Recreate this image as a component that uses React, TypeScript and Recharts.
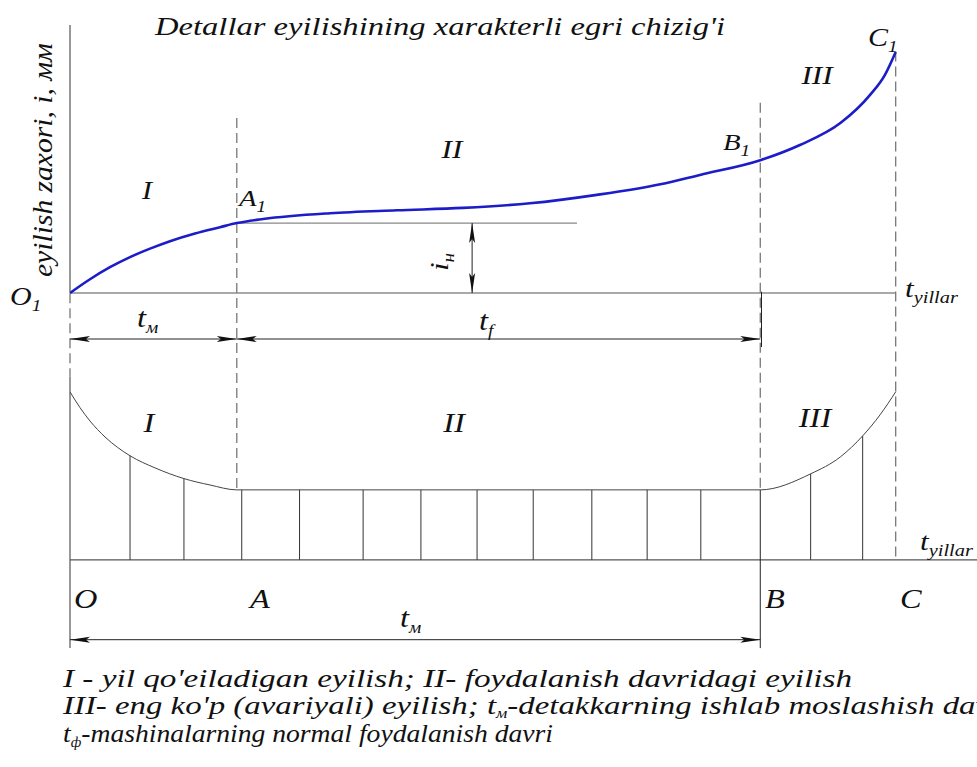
import React from 'react'
import { ComposedChart, Line, XAxis, YAxis, ReferenceLine } from 'recharts'

// time axis: O = 0 ... C = 100
const T_A = 20.2
const T_B = 83.6
const T_C = 100
const X_MAX = 109

// wear curve O1 - A1 - B1 - C1 (i, mm)
const wearT = [0, 2.42, 4.84, 7.27, 9.69, 12.11, 15.14, 18.17, 20.2, 23.4, 31.5, 39.6, 47.6, 55.7, 63.8, 71.5, 76.3, 83.7, 88.4, 93.3, 96.9, 98.7, 100]
const wearI = [0, 0.57, 1.07, 1.49, 1.84, 2.15, 2.47, 2.73, 2.9, 3.07, 3.31, 3.43, 3.53, 3.72, 4.07, 4.51, 4.9, 5.52, 6.14, 7.05, 8.22, 9.05, 10]
const I_A1 = 2.9

// wear rate curve (lower diagram)
const rateT = [0, 1.21, 2.42, 4.24, 7.27, 10.3, 13.8, 16.95, 20.2, 83.6, 89.7, 93.3, 96.0, 98.1, 100]
const rateV = [2.4, 2.175, 1.984, 1.756, 1.487, 1.314, 1.161, 1.07, 1.0, 1.0, 1.229, 1.471, 1.771, 2.071, 2.4]

// hatch lines under the rate curve
const hatchT = [7.27, 13.8, 20.8, 27.8, 35.5, 42.5, 49.3, 56.1, 63.2, 69.9, 76.4, 89.7, 96.0]
const hatchV = [1.487, 1.161, 1.0, 1.0, 1.0, 1.0, 1.0, 1.0, 1.0, 1.0, 1.0, 1.229, 1.771]

// axis ranges
const wearDomain = [-15.23, 11.12]
const rateDomain = [-1.43, 7.64]

const wearData = wearT.map((t, k) => ({ t, i: wearI[k] }))
const rateData = rateT.map((t, k) => ({ t, v: rateV[k] }))

const W = 977
const H = 767
const SX = 1.2
const FONT = '"Liberation Serif"'
const AXIS = '#555'
const DASH = '#777'

const DimLine = (props: any) => {
    const { x1, y1, x2, y2 } = props
    const len = Math.hypot(x2 - x1, y2 - y1) || 1
    const ux = (x2 - x1) / len
    const uy = (y2 - y1) / len
    const L = 20
    const w = 3
    const head = (tx: number, ty: number, dx: number, dy: number) =>
        `${tx},${ty} ${tx + dx * L - dy * w},${ty + dy * L + dx * w} ${tx + dx * L * 0.8},${ty + dy * L * 0.8} ${tx + dx * L + dy * w},${ty + dy * L - dx * w}`
    return (
        <g>
            <line x1={x1} y1={y1} x2={x2} y2={y2} stroke="#222" strokeWidth={1} />
            <polygon points={head(x1, y1, ux, uy)} fill="#111" />
            <polygon points={head(x2, y2, -ux, -uy)} fill="#111" />
        </g>
    )
}

const Txt = ({ x, y, size = 26, anchor = 'start', rotate = 0, len, children }: any) => (
    <text
        transform={`translate(${x},${y}) rotate(${rotate}) scale(${len ? 1 : SX},1)`}
        style={{ fontFamily: FONT, fontStyle: 'italic', fontSize: size }}
        textAnchor={anchor}
        fill="#111"
        textLength={len}
        lengthAdjust={len ? 'spacingAndGlyphs' : undefined}
    >
        {children}
    </text>
)

const Sub = ({ children, size = 16, dy = 6 }: any) => (
    <tspan dy={dy} style={{ fontSize: size }}>{children}</tspan>
)

export default function App() {
    return (
        <div style={{ position: 'absolute', left: 0, top: 0, width: W, height: H, background: '#fff' }}>
            <ComposedChart width={W} height={H} margin={{ top: 25, right: 7, bottom: 107, left: 70 }}>
                <XAxis type="number" dataKey="t" domain={[0, X_MAX]} allowDataOverflow hide />
                <YAxis yAxisId="i" type="number" domain={wearDomain} allowDataOverflow hide />
                <YAxis yAxisId="v" type="number" domain={rateDomain} allowDataOverflow hide />

                {/* upper diagram axes */}
                <ReferenceLine yAxisId="i" segment={[{ x: 0, y: 0 }, { x: 0, y: wearDomain[1] }]} stroke={AXIS} strokeWidth={1.2} />
                <ReferenceLine yAxisId="i" segment={[{ x: 0, y: 0 }, { x: T_C, y: 0 }]} stroke={AXIS} strokeWidth={1.2} />
                <ReferenceLine yAxisId="i" segment={[{ x: T_A, y: I_A1 }, { x: 61.4, y: I_A1 }]} stroke="#888" strokeWidth={1.2} />

                {/* lower diagram axes */}
                <ReferenceLine yAxisId="v" segment={[{ x: 0, y: 2.62 }, { x: 0, y: -1.26 }]} stroke={AXIS} strokeWidth={1.2} />
                <ReferenceLine yAxisId="v" segment={[{ x: 0, y: 0 }, { x: 110, y: 0 }]} stroke={AXIS} strokeWidth={1.2} ifOverflow="visible" />

                {/* period boundaries */}
                <ReferenceLine yAxisId="v" segment={[{ x: 0, y: 3.81 }, { x: 0, y: 2.62 }]} stroke={DASH} strokeWidth={1.3} strokeDasharray="10 5" />
                <ReferenceLine yAxisId="v" segment={[{ x: T_A, y: 6.31 }, { x: T_A, y: 1.0 }]} stroke={DASH} strokeWidth={1.3} strokeDasharray="10 5" />
                <ReferenceLine yAxisId="v" segment={[{ x: T_B, y: 6.53 }, { x: T_B, y: 1.0 }]} stroke={DASH} strokeWidth={1.3} strokeDasharray="10 5" />
                <ReferenceLine yAxisId="v" segment={[{ x: T_B, y: 1.0 }, { x: T_B, y: -1.26 }]} stroke="#222" strokeWidth={1} />
                <ReferenceLine yAxisId="v" segment={[{ x: T_B + 0.15, y: 3.83 }, { x: T_B + 0.15, y: 3.04 }]} stroke="#222" strokeWidth={1} />
                <ReferenceLine yAxisId="v" segment={[{ x: T_C, y: 7.26 }, { x: T_C, y: 0 }]} stroke={DASH} strokeWidth={1.3} strokeDasharray="10 5" />

                {/* hatching */}
                {hatchT.map((t, k) => (
                    <ReferenceLine key={k} yAxisId="v" segment={[{ x: t, y: 0 }, { x: t, y: hatchV[k] }]} stroke="#333" strokeWidth={1} />
                ))}

                {/* dimension lines */}
                <ReferenceLine yAxisId="i" segment={[{ x: 0, y: -1.91 }, { x: T_A, y: -1.91 }]} shape={DimLine} />
                <ReferenceLine yAxisId="i" segment={[{ x: T_A, y: -1.91 }, { x: T_B, y: -1.91 }]} shape={DimLine} />
                <ReferenceLine yAxisId="i" segment={[{ x: 48.7, y: I_A1 }, { x: 48.7, y: 0 }]} shape={DimLine} />
                <ReferenceLine yAxisId="v" segment={[{ x: 0, y: -1.14 }, { x: T_B, y: -1.14 }]} shape={DimLine} />

                <Line data={rateData} dataKey="v" yAxisId="v" type="monotone" stroke="#444" strokeWidth={1} dot={false} isAnimationActive={false} />
                <Line data={wearData} dataKey="i" yAxisId="i" type="monotone" stroke="#1c1cc8" strokeWidth={2.6} dot={false} isAnimationActive={false} />
            </ComposedChart>

            <svg width={W} height={H} style={{ position: 'absolute', left: 0, top: 0, pointerEvents: 'none' }}>
                <Txt x={155} y={35} size={25} len={570}>Detallar eyilishining xarakterli egri chizig'i</Txt>
                <Txt x={52} y={160} rotate={-90} anchor="middle" size={27} len={234}>eyilish zaxori, i, мм</Txt>

                <Txt x={10} y={305} size={25}>O<Sub>1</Sub></Txt>
                <Txt x={147} y={199} size={25} anchor="middle">I</Txt>
                <Txt x={239} y={206} size={24}>A<Sub>1</Sub></Txt>
                <Txt x={452} y={158} size={26} anchor="middle">II</Txt>
                <Txt x={723} y={150} size={24}>B<Sub>1</Sub></Txt>
                <Txt x={817} y={84} size={26} anchor="middle">III</Txt>
                <Txt x={868} y={46} size={25}>C<Sub>1</Sub></Txt>
                <Txt x={448} y={262} rotate={-90} size={26} anchor="middle">i<Sub>н</Sub></Txt>

                <Txt x={137} y={327} size={27}>t<Sub>м</Sub></Txt>
                <Txt x={479} y={330} size={27}>t<Sub>f</Sub></Txt>
                <Txt x={905} y={297} size={26}>t<Sub size={17}>yillar</Sub></Txt>

                <Txt x={149} y={432} size={27} anchor="middle">I</Txt>
                <Txt x={454} y={432} size={27} anchor="middle">II</Txt>
                <Txt x={815} y={427} size={27} anchor="middle">III</Txt>
                <Txt x={920} y={550} size={26}>t<Sub size={17}>yillar</Sub></Txt>

                <Txt x={74} y={608} size={27}>O</Txt>
                <Txt x={250} y={608} size={27}>A</Txt>
                <Txt x={765} y={608} size={27}>B</Txt>
                <Txt x={900} y={608} size={27}>C</Txt>
                <Txt x={400} y={627} size={27}>t<Sub>м</Sub></Txt>

                <Txt x={63} y={687} len={789}>I - yil qo'eiladigan eyilish;  II- foydalanish davridagi eyilish</Txt>
                <Txt x={63} y={714} len={949}>III- eng ko'p (avariyali) eyilish; t<Sub size={14} dy={4}>м</Sub><tspan dy={-4}>-detakkarning ishlab moslashish davri</tspan></Txt>
                <Txt x={63} y={742} len={490}>t<Sub size={14} dy={5}>ф</Sub><tspan dy={-5}>-mashinalarning normal foydalanish davri</tspan></Txt>
            </svg>
        </div>
    )
}
